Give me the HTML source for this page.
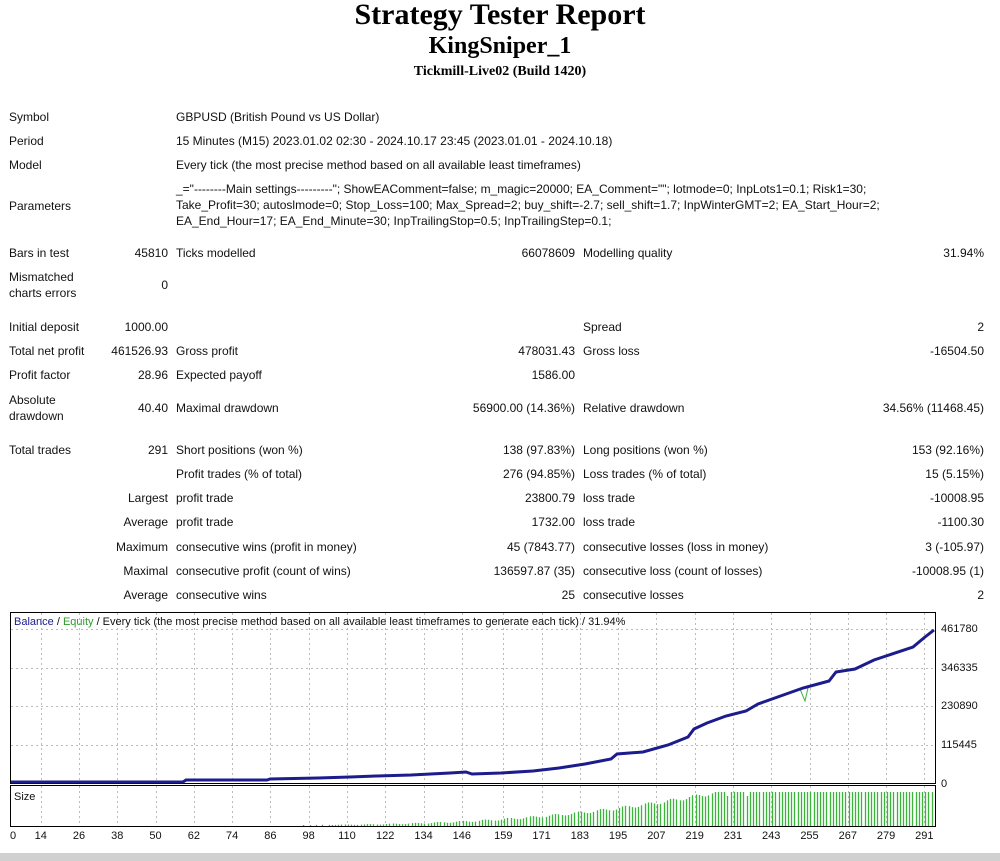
<!DOCTYPE html>
<html><head><meta charset="utf-8">
<style>
body{margin:0;width:1000px;height:861px;background:#fff;position:relative;overflow:hidden;font-family:"Liberation Sans",sans-serif;font-size:12px;color:#111}
.t{position:absolute;white-space:nowrap;line-height:14px}
.r{text-align:right}
h1,h2,h3{position:absolute;left:0;width:1000px;text-align:center;margin:0;font-family:"Liberation Serif",serif;font-weight:bold;color:#000}
</style></head><body>
<h1 style="top:-2px;font-size:30px">Strategy Tester Report</h1>
<h2 style="top:33px;font-size:24px">KingSniper_1</h2>
<h3 style="top:64px;font-size:14px">Tickmill-Live02 (Build 1420)</h3>
<div id="rows"></div>
<svg style="position:absolute;left:0;top:0" width="1000" height="861" id="sv">
<rect x="10.5" y="612.5" width="925" height="171" fill="#fff" stroke="#000"/>
<rect x="10.5" y="785.5" width="925" height="41" fill="#fff" stroke="#000"/>
<g id="grid" stroke="#bbb" stroke-dasharray="2,3" stroke-width="1"></g>
<g id="bars" stroke="#3cb43c" stroke-width="1.3"></g>
<polyline id="eq" fill="none" stroke="#3cb43c" stroke-width="1"/>
<polyline id="bal" fill="none" stroke="#1c1c8c" stroke-width="3"/>
<rect x="0" y="853" width="1000" height="8" fill="#d0d0d0"/>
</svg>
<div class="t" style="left:14px;top:615px;font-size:11px"><span style="color:#1c1c8c">Balance</span> / <span style="color:#2a9c2a">Equity</span> / Every tick (the most precise method based on all available least timeframes to generate each tick) / 31.94%</div>
<div class="t" style="left:14px;top:790px;font-size:11px">Size</div>
<div id="ax"></div>
<script>
var h="";
function L(x,y,s){h+='<div class="t" style="left:'+x+'px;top:'+(y-7)+'px">'+s+'</div>';}
function Rt(x,y,s){h+='<div class="t r" style="left:'+(x-200)+'px;width:200px;top:'+(y-7)+'px">'+s+'</div>';}
L(9,117,"Symbol");L(176,117,"GBPUSD (British Pound vs US Dollar)");
L(9,141,"Period");L(176,141,"15 Minutes (M15) 2023.01.02 02:30 - 2024.10.17 23:45 (2023.01.01 - 2024.10.18)");
L(9,165,"Model");L(176,165,"Every tick (the most precise method based on all available least timeframes)");
L(9,206,"Parameters");
L(176,189,'_="--------Main settings---------"; ShowEAComment=false; m_magic=20000; EA_Comment=""; lotmode=0; InpLots1=0.1; Risk1=30;');
L(176,205,'Take_Profit=30; autoslmode=0; Stop_Loss=100; Max_Spread=2; buy_shift=-2.7; sell_shift=1.7; InpWinterGMT=2; EA_Start_Hour=2;');
L(176,221,'EA_End_Hour=17; EA_End_Minute=30; InpTrailingStop=0.5; InpTrailingStep=0.1;');
L(9,253,"Bars in test");Rt(168,253,"45810");L(176,253,"Ticks modelled");Rt(575,253,"66078609");L(583,253,"Modelling quality");Rt(984,253,"31.94%");
L(9,277,"Mismatched");L(9,293,"charts errors");Rt(168,285,"0");
L(9,327,"Initial deposit");Rt(168,327,"1000.00");L(583,327,"Spread");Rt(984,327,"2");
L(9,351,"Total net profit");Rt(168,351,"461526.93");L(176,351,"Gross profit");Rt(575,351,"478031.43");L(583,351,"Gross loss");Rt(984,351,"-16504.50");
L(9,375,"Profit factor");Rt(168,375,"28.96");L(176,375,"Expected payoff");Rt(575,375,"1586.00");
L(9,400,"Absolute");L(9,416,"drawdown");Rt(168,408,"40.40");L(176,408,"Maximal drawdown");Rt(575,408,"56900.00 (14.36%)");L(583,408,"Relative drawdown");Rt(984,408,"34.56% (11468.45)");
L(9,450,"Total trades");Rt(168,450,"291");L(176,450,"Short positions (won %)");Rt(575,450,"138 (97.83%)");L(583,450,"Long positions (won %)");Rt(984,450,"153 (92.16%)");
L(176,474,"Profit trades (% of total)");Rt(575,474,"276 (94.85%)");L(583,474,"Loss trades (% of total)");Rt(984,474,"15 (5.15%)");
Rt(168,498,"Largest");L(176,498,"profit trade");Rt(575,498,"23800.79");L(583,498,"loss trade");Rt(984,498,"-10008.95");
Rt(168,522,"Average");L(176,522,"profit trade");Rt(575,522,"1732.00");L(583,522,"loss trade");Rt(984,522,"-1100.30");
Rt(168,547,"Maximum");L(176,547,"consecutive wins (profit in money)");Rt(575,547,"45 (7843.77)");L(583,547,"consecutive losses (loss in money)");Rt(984,547,"3 (-105.97)");
Rt(168,571,"Maximal");L(176,571,"consecutive profit (count of wins)");Rt(575,571,"136597.87 (35)");L(583,571,"consecutive loss (count of losses)");Rt(984,571,"-10008.95 (1)");
Rt(168,595,"Average");L(176,595,"consecutive wins");Rt(575,595,"25");L(583,595,"consecutive losses");Rt(984,595,"2");
document.getElementById("rows").innerHTML=h;
var a="",g="";
var yl=[[629,"461780"],[668,"346335"],[706,"230890"],[745,"115445"],[784,"0"]];
yl.forEach(function(p){a+='<div class="t" style="left:941px;top:'+(p[0]-7)+'px;font-size:11px">'+p[1]+'</div>';if(p[1]!="0")g+='<line x1="11" x2="935" y1="'+(p[0]+.5)+'" y2="'+(p[0]+.5)+'"/>';});
var xs=[0,14,26,38,50,62,74,86,98,110,122,134,146,159,171,183,195,207,219,231,243,255,267,279,291];
xs.forEach(function(v){var x=v==0?13:(79+(v-26)*3.19);a+='<div class="t" style="left:'+(x-15)+'px;width:30px;text-align:center;top:829px;font-size:11px">'+v+'</div>';
 if(v)g+='<line x1="'+(Math.round(x)+.5)+'" x2="'+(Math.round(x)+.5)+'" y1="613" y2="783"/><line x1="'+(Math.round(x)+.5)+'" x2="'+(Math.round(x)+.5)+'" y1="786" y2="826"/>';});
document.getElementById("ax").innerHTML=a;
document.getElementById("grid").innerHTML=g;
var P=[[11,782],[183,782],[186,780],[267,780],[270,779],[318,778],[350,777],[376,776],[411,775],[450,773],[466,772],[472,774],[501,773],[533,771],[559,768],[585,764],[611,759],[617,754],[643,752],[668,745],[688,737],[694,729],[707,723],[726,716],[746,711],[758,704],[803,688],[829,681],[836,672],[855,669],[874,660],[913,647],[925,637],[934,630]];
document.getElementById("bal").setAttribute("points",P.map(function(p){return p.join(",")}).join(" "));
var E=P.slice(0,26).concat([[800,689],[805,701],[808,688]]).concat(P.slice(26));
document.getElementById("eq").setAttribute("points",E.map(function(p){return p.join(",")}).join(" "));
var b="";
for(var x=300;x<934;x+=3.19){var hh;
 if(x<713){var t=(x-300)/(713-300);hh=1+Math.pow(t,2.6)*30+((Math.sin(x*1.7)+1)*2*t);}
 else hh=34-((Math.sin(x*2.3)>0.95)?4:0);
 if(x<330&&Math.sin(x)<0.3)continue;
 var xx=Math.round(x)+.5;b+='<line x1="'+xx+'" x2="'+xx+'" y1="826" y2="'+(826-hh)+'"/>';}
document.getElementById("bars").innerHTML=b;
</script>
</body></html>
